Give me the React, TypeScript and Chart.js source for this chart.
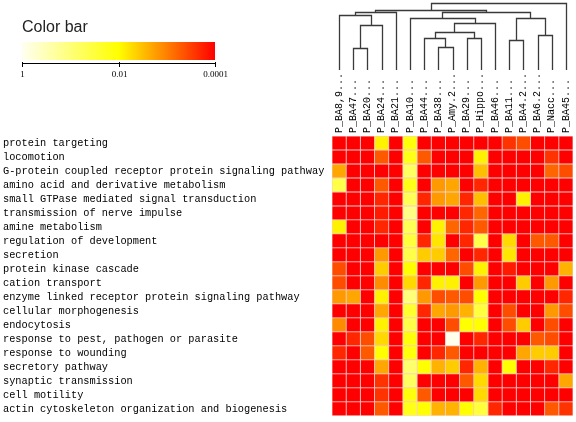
import { useEffect, useRef } from "react";
import { Chart, registerables } from "chart.js";

Chart.register(...registerables);

const rowLabels = [
  "protein targeting",
  "locomotion",
  "G-protein coupled receptor protein signaling pathway",
  "amino acid and derivative metabolism",
  "small GTPase mediated signal transduction",
  "transmission of nerve impulse",
  "amine metabolism",
  "regulation of development",
  "secretion",
  "protein kinase cascade",
  "cation transport",
  "enzyme linked receptor protein signaling pathway",
  "cellular morphogenesis",
  "endocytosis",
  "response to pest, pathogen or parasite",
  "response to wounding",
  "secretory pathway",
  "synaptic transmission",
  "cell motility",
  "actin cytoskeleton organization and biogenesis",
];

const colLabels = [
  "P_BA8,9...", "P_BA47...", "P_BA20...", "P_BA24...", "P_BA21...", "P_BA10...",
  "P_BA44...", "P_BA38...", "P_Amy.2...", "P_BA29...", "P_Hippo...", "P_BA46...",
  "P_BA11...", "P_BA4.2...", "P_BA6.2...", "P_Nacc...", "P_BA45...",
];

// -log10(p) per row (GO term) and column (region)
const negLog10P = [
  [4, 4, 4, 2.1, 4, 1.9, 4, 4, 4, 4, 4, 4, 3.6, 3.4, 4, 4, 4],
  [4, 4, 4, 3.3, 4, 1.8, 3.3, 4, 4, 4, 2.1, 4, 4, 4, 4, 3.6, 4],
  [2.7, 4, 4, 4, 4, 1.2, 4, 4, 4, 4, 2.5, 4, 4, 4, 4, 3.2, 3.4],
  [1.4, 4, 4, 3.3, 4, 1.8, 4, 2.8, 2.7, 4, 3.7, 4, 4, 4, 4, 4, 4],
  [4, 4, 4, 3.7, 4, 1.3, 3.7, 2.8, 2.7, 3.7, 2.5, 4, 4, 2.1, 4, 4, 4],
  [4, 4, 4, 3.8, 4, 0.9, 4, 4, 4, 3.7, 3.2, 4, 4, 4, 4, 4, 4],
  [2.1, 4, 4, 3.7, 4, 1.3, 4, 2.1, 3.2, 3.7, 3.3, 4, 4, 4, 4, 4, 4],
  [4, 4, 4, 4, 4, 1.5, 3.7, 2.2, 4, 3.7, 1.4, 4, 2.3, 4, 3.3, 3.3, 4],
  [4, 4, 4, 2.8, 4, 1.4, 2.4, 2.4, 3.2, 4, 3.7, 4, 2.2, 4, 4, 4, 4],
  [3.4, 4, 4, 2.4, 4, 2.0, 4, 4, 4, 3.4, 2.1, 4, 3.8, 4, 4, 4, 2.6],
  [3.4, 4, 4, 2.9, 4, 2.3, 3.7, 2.1, 2.1, 4, 2.8, 4, 4, 2.4, 4, 2.8, 4],
  [2.8, 2.7, 4, 2.1, 4, 1.0, 2.8, 3.4, 3.3, 3.4, 2.0, 4, 4, 4, 4, 4, 3.7],
  [4, 4, 4, 2.7, 4, 1.6, 3.7, 2.7, 2.8, 2.6, 1.5, 4, 3.4, 4, 4, 2.8, 3.4],
  [2.9, 4, 4, 2.1, 4, 1.4, 4, 4, 3.4, 2.0, 2.0, 4, 3.4, 2.4, 4, 3.4, 4],
  [4, 3.7, 3.4, 2.3, 4, 1.9, 4, 4, 0.05, 4, 3.7, 4, 4, 4, 3.3, 3.4, 4],
  [3.7, 4, 3.3, 2.0, 4, 1.9, 4, 3.7, 3.3, 4, 4, 4, 4, 2.7, 2.4, 2.4, 4],
  [4, 4, 4, 2.7, 4, 1.1, 2.0, 2.6, 2.4, 3.7, 2.6, 4, 2.0, 4, 4, 3.7, 4],
  [4, 4, 4, 3.6, 4, 1.2, 4, 4, 4, 3.3, 2.3, 4, 4, 4, 4, 4, 2.7],
  [4, 4, 4, 3.6, 4, 1.9, 3.3, 4, 4, 4, 2.3, 4, 4, 4, 4, 4, 4],
  [4, 4, 4, 3.3, 4, 1.8, 2.0, 2.6, 2.6, 2.0, 1.5, 3.7, 4, 4, 4, 3.3, 3.6],
];

// colour bar ticks (p-values)
const legendTicks = [1, 0.01, 0.0001];
const legendTickLabels = ["1", "0.01", "0.0001"];

// dendrogram linkage: [left node, right node, height]; leaves 0..16, merged nodes 17..
const linkage: [number, number, number][] = [
  [1, 2, 21.7],
  [7, 8, 23.3],
  [12, 13, 30],
  [6, 18, 32.3],
  [9, 10, 32.3],
  [14, 15, 35],
  [20, 21, 38.3],
  [17, 3, 45],
  [23, 11, 46.7],
  [0, 24, 55],
  [5, 25, 51.7],
  [19, 22, 51.7],
  [27, 28, 57.7],
  [26, 4, 58.3],
  [30, 29, 60],
  [31, 16, 66.7],
];

const MAX_LOG = 4;

function colorFor(v: number): string {
  const t = Math.max(0, Math.min(1, v / MAX_LOG));
  if (t < 0.5) {
    const b = Math.round(255 * (1 - 2 * t) * 0.95);
    return `rgb(255,255,${b})`;
  }
  const g = Math.round(255 * (2 - 2 * t));
  return `rgb(255,${g},0)`;
}

const overlayPlugin = {
  id: "overlay",
  afterDraw(chart: any) {
    const ctx: CanvasRenderingContext2D = chart.ctx;
    const xs = chart.scales.x;
    const area = chart.chartArea;

    // column labels (rotated)
    ctx.save();
    ctx.fillStyle = "#000";
    ctx.font = "10px 'Liberation Mono'";
    ctx.textAlign = "left";
    ctx.textBaseline = "middle";
    colLabels.forEach((lab, j) => {
      const px = xs.getPixelForValue(j + 0.5);
      ctx.save();
      ctx.translate(px, area.top - 3);
      ctx.rotate(-Math.PI / 2);
      ctx.fillText(lab, 0, 0);
      ctx.restore();
    });
    ctx.restore();

    // dendrogram
    const baseY = 70;
    const topY = 3.3;
    const maxH = Math.max(...linkage.map((l) => l[2]));
    const yFor = (h: number) => baseY - (h / maxH) * (baseY - topY);
    const nodeX: number[] = colLabels.map((_, j) => xs.getPixelForValue(j + 0.5));
    const nodeH: number[] = colLabels.map(() => 0);
    ctx.save();
    ctx.strokeStyle = "#3a3a3a";
    ctx.lineWidth = 1.3;
    ctx.beginPath();
    linkage.forEach(([a, b, h]) => {
      const xa = Math.round(nodeX[a]) + 0.5;
      const xb = Math.round(nodeX[b]) + 0.5;
      const ym = Math.round(yFor(h)) + 0.5;
      ctx.moveTo(xa, yFor(nodeH[a]));
      ctx.lineTo(xa, ym);
      ctx.lineTo(xb, ym);
      ctx.lineTo(xb, yFor(nodeH[b]));
      nodeX.push((nodeX[a] + nodeX[b]) / 2);
      nodeH.push(h);
    });
    ctx.stroke();
    ctx.restore();

    // colour bar
    const cbL = 22, cbR = 215, cbT = 42, cbB = 60;
    ctx.save();
    ctx.fillStyle = "#222";
    ctx.font = "16px 'Liberation Sans'";
    ctx.textAlign = "left";
    ctx.textBaseline = "alphabetic";
    ctx.fillText("Color bar", cbL, 32);
    const grad = ctx.createLinearGradient(cbL, 0, cbR, 0);
    for (let k = 0; k <= 8; k++) {
      grad.addColorStop(k / 8, colorFor((k / 8) * MAX_LOG));
    }
    ctx.fillStyle = grad;
    ctx.fillRect(cbL, cbT, cbR - cbL, cbB - cbT);
    ctx.strokeStyle = "#000";
    ctx.lineWidth = 1;
    ctx.beginPath();
    ctx.moveTo(cbL, 63.5);
    ctx.lineTo(cbR, 63.5);
    ctx.stroke();
    ctx.fillStyle = "#000";
    ctx.font = "9px 'Liberation Serif'";
    ctx.textAlign = "center";
    ctx.textBaseline = "top";
    legendTicks.forEach((p, k) => {
      const px = Math.round(cbL + (-Math.log10(p) / MAX_LOG) * (cbR - cbL)) + 0.5;
      ctx.beginPath();
      ctx.moveTo(px, 62);
      ctx.lineTo(px, 67);
      ctx.stroke();
      ctx.fillText(legendTickLabels[k], px, 70);
    });
    ctx.restore();
  },
};

export default function App() {
  const ref = useRef<HTMLCanvasElement>(null);
  useEffect(() => {
    if (!ref.current) return;
    const datasets = colLabels.map((lab, j) => ({
      label: lab,
      data: rowLabels.map(() => 1),
      backgroundColor: negLog10P.map((r) => colorFor(r[j])),
      borderColor: "rgba(245,200,200,0.9)",
      borderWidth: 0.75,
      borderSkipped: false as const,
      barPercentage: 1,
      categoryPercentage: 1,
    }));
    const chart = new Chart(ref.current, {
      type: "bar",
      data: { labels: rowLabels, datasets },
      options: {
        indexAxis: "y",
        animation: false,
        responsive: false,
        maintainAspectRatio: false,
        devicePixelRatio: 1,
        layout: { padding: { left: 3, top: 136, right: 3, bottom: 5 } },
        plugins: { legend: { display: false }, tooltip: { enabled: false } },
        scales: {
          x: { stacked: true, min: 0, max: colLabels.length, display: false },
          y: {
            stacked: true,
            position: "left",
            grid: { display: false },
            border: { display: false },
            ticks: {
              crossAlign: "far",
              autoSkip: false,
              padding: 0,
              color: "#000",
              font: { family: "'Liberation Mono'", size: 10.3 },
            },
            afterFit: (s: any) => {
              s.width = 329;
            },
          },
        },
      },
      plugins: [overlayPlugin],
    });
    return () => chart.destroy();
  }, []);
  return (
    <div style={{ position: "absolute", left: 0, top: 0, width: 576, height: 422, background: "#fff" }}>
      <canvas ref={ref} width={576} height={422} style={{ width: 576, height: 422 }} />
    </div>
  );
}
